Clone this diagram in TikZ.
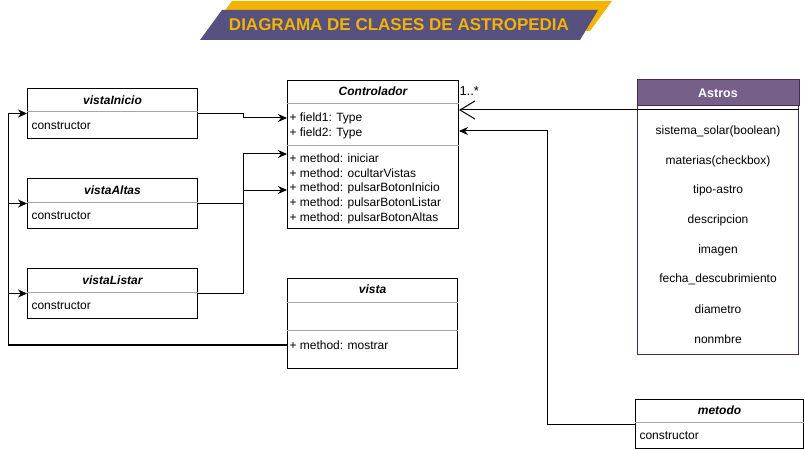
\documentclass[tikz,border=0pt]{standalone}
\usepackage{fontspec}
\setmainfont{Liberation Sans}
\usetikzlibrary{arrows.meta}
\definecolor{morado}{HTML}{56517E}
\definecolor{amarillo}{HTML}{F2B400}
\definecolor{moradoclaro}{HTML}{76608A}
\definecolor{bordemorado}{HTML}{432D57}
\definecolor{separa}{HTML}{A6A6A6}

\begin{document}
\begin{tikzpicture}[x=1pt,y=-1pt,line width=1pt,
    clase/.style={draw,anchor=north west,inner sep=0pt},
    titulo/.style={inner sep=0pt,font=\fontsize{12}{14}\selectfont\bfseries\itshape},
    campo/.style={anchor=west,inner sep=0pt,font=\fontsize{12}{14}\selectfont},
    sep/.style={draw=separa},
    flecha/.style={-{Stealth[length=9pt,width=8pt]}},
    abierta/.style={-{Straight Barb[length=15pt,width=18pt]}}]
                \useasboundingbox (0,0) rectangle (805,449);
                % cabecera
                \fill[amarillo] (232,1) -- (612,1) -- (590,31) -- (210,31) -- cycle;
                \fill[morado] (222,10) -- (598,10) -- (580,40) -- (200,40) -- cycle;
                \node[text=amarillo,font=\fontsize{17}{20}\selectfont\bfseries] (cabecera) at (399,25) {DIAGRAMA DE CLASES DE ASTROPEDIA};
                % vistas
                \foreach \nom/\tit/\y in {inicio/vistaInicio/88,altas/vistaAltas/178,listar/vistaListar/268}{
                    \node[clase,minimum width=170pt,minimum height=50pt] (\nom) at (27,\y) {};
                    \draw[sep] ([yshift=-24pt]\nom.north west) -- ([yshift=-24pt]\nom.north east);
                    \node[titulo] (t\nom) at ([yshift=-12pt]\nom.north) {\tit};
                    \node[campo] (c\nom) at ([xshift=4pt,yshift=-38pt]\nom.north west) {constructor};
                }
                % Controlador
                \node[clase,minimum width=171pt,minimum height=148pt] (ctrl) at (287,80) {};
                \node[titulo] (tctrl) at ([yshift=-11pt]ctrl.north) {Controlador};
                \draw[sep] ([yshift=-24pt]ctrl.north west) -- ([yshift=-24pt]ctrl.north east);
                \node[campo] (f1) at ([xshift=2pt,yshift=-38pt]ctrl.north west) {+ field1: Type};
                \node[campo] (f2) at ([xshift=2pt,yshift=-53pt]ctrl.north west) {+ field2: Type};
                \draw[sep] ([yshift=-66pt]ctrl.north west) -- ([yshift=-66pt]ctrl.north east);
                \foreach \m [count=\i] in {iniciar,ocultarVistas,pulsarBotonInicio,pulsarBotonListar,pulsarBotonAltas}{
                    \node[campo] (m\i) at ([xshift=2pt,yshift={(-63-15*\i)*1pt}]ctrl.north west) {+ method: \m};
                }
                % vista
                \node[clase,minimum width=170pt,minimum height=90pt] (vista) at (287,278) {};
                \node[titulo] (tvista) at ([yshift=-11pt]vista.north) {vista};
                \draw[sep] ([yshift=-24pt]vista.north west) -- ([yshift=-24pt]vista.north east);
                \draw[sep] ([yshift=-52pt]vista.north west) -- ([yshift=-52pt]vista.north east);
                \node[campo] (vm) at ([xshift=2pt,yshift=-67pt]vista.north west) {+ method: mostrar};
                % metodo
                \node[clase,minimum width=168pt,minimum height=49pt] (met) at (635,399) {};
                \node[titulo] (tmet) at ([yshift=-11pt]met.north) {metodo};
                \draw[sep] ([yshift=-23pt]met.north west) -- ([yshift=-23pt]met.north east);
                \node[campo] (cmet) at ([xshift=4pt,yshift=-37pt]met.north west) {constructor};
                % Astros
                \node[clase,draw=bordemorado,minimum width=161pt,minimum height=274pt] (astros) at (637,80) {};
                \filldraw[fill=moradoclaro,draw=bordemorado] (astros.north west) rectangle ([yshift=-26pt]astros.north east);
                \node[text=white,inner sep=0pt,font=\fontsize{12.5}{14}\selectfont\bfseries] (tastros) at ([yshift=-13pt]astros.north) {Astros};
                \draw ([yshift=-30pt]astros.north west) -- ([yshift=-30pt]astros.north east);
                \foreach \a [count=\i] in {sistema\_solar(boolean),materias(checkbox),tipo-astro,descripcion,imagen,fecha\_descubrimiento,diametro,nonmbre}{
                    \node[inner sep=0pt,font=\fontsize{12}{14}\selectfont] (a\i) at ([yshift={(-22-29.6*\i)*1pt}]astros.north) {\a};
                }
                % conexiones
                \coordinate (izq) at (8,345);
                \foreach \v in {inicio,altas,listar}{
                    \draw[flecha] (vista.west |- vm) -- (izq |- vm) |- (\v.west);
                }
                \draw[line width=1.6pt] (vista.west |- vm) -- (izq |- vm);
                \draw[flecha] (inicio.east) -- ++(45,0) |- (ctrl.west |- f1);
                \draw[flecha] (altas.east) -- ++(45,0) |- (ctrl.west |- 0,190);
                \draw[flecha] (listar.east) -- ++(45,0) |- (ctrl.west |- 0,154);
                \draw[abierta] (astros.west |- 0,110) -- (ctrl.east |- 0,110);
                \node[anchor=west,inner sep=0pt,font=\fontsize{13}{15}\selectfont] (mult) at (459,91) {1..*};
                \draw[flecha] (met.west) -- ++(-88,0) |- (ctrl.east |- 0,131);
            \end{tikzpicture}
\end{document}
